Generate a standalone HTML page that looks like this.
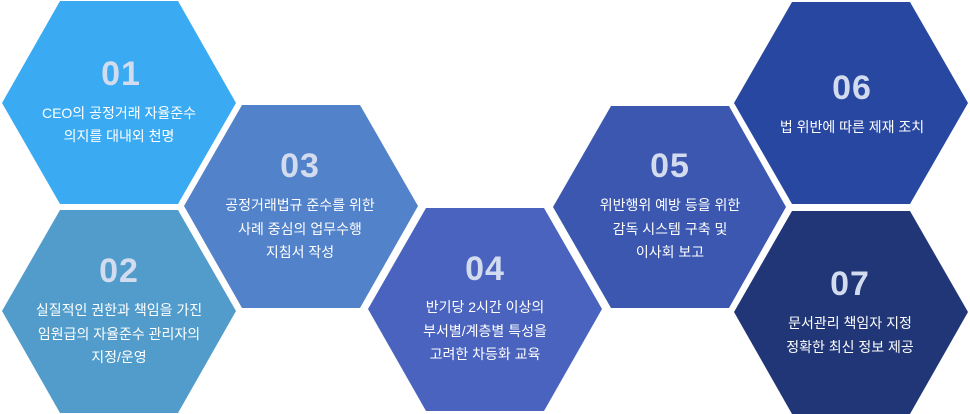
<!DOCTYPE html>
<html><head><meta charset="utf-8"><style>
html,body{margin:0;padding:0;background:#fff;width:970px;height:414px;overflow:hidden}
svg text{font-family:"Liberation Sans","Noto Sans CJK KR",sans-serif;text-anchor:middle}
.n{font-size:34px;font-weight:bold;fill:#d3dcef;letter-spacing:1px}
.t{font-size:14px;fill:#fff}
</style></head><body>
<svg width="970" height="414" viewBox="0 0 970 414" xmlns="http://www.w3.org/2000/svg">
<g>
<polygon points="2,103 60,1 178,1 236,103 178,204 60,204" fill="#3aabf2"/>
<polygon points="2,311 60,210 178,210 236,311 178,413 60,413" fill="#519ccb"/>
<polygon points="184,206 242,105 360,105 418,206 360,308 242,308" fill="#5282c9"/>
<polygon points="368,309 426,208 544,208 602,309 544,411 426,411" fill="#4a63bf"/>
<polygon points="553,207 611,106 729,106 786,207 729,308 611,308" fill="#3b57b0"/>
<polygon points="734,103 792,2 910,2 968,103 910,204 792,204" fill="#2847a1"/>
<polygon points="734,312 792,211 910,211 968,312 910,414 792,414" fill="#203677"/>
</g>
<text class="n" x="121" y="85">01</text>
<text class="t" x="119" y="118">CEO의 공정거래 자율준수</text>
<text class="t" x="119" y="141">의지를 대내외 천명</text>
<text class="n" x="119" y="282">02</text>
<text class="t" x="119" y="315">실질적인 권한과 책임을 가진</text>
<text class="t" x="119" y="339">임원급의 자율준수 관리자의</text>
<text class="t" x="119" y="362">지정/운영</text>
<text class="n" x="300" y="177">03</text>
<text class="t" x="300" y="210">공정거래법규 준수를 위한</text>
<text class="t" x="300" y="234">사례 중심의 업무수행</text>
<text class="t" x="300" y="257">지침서 작성</text>
<text class="n" x="485" y="280">04</text>
<text class="t" x="485" y="312">반기당 2시간 이상의</text>
<text class="t" x="485" y="336">부서별/계층별 특성을</text>
<text class="t" x="485" y="359">고려한 차등화 교육</text>
<text class="n" x="670" y="177">05</text>
<text class="t" x="670" y="210">위반행위 예방 등을 위한</text>
<text class="t" x="670" y="234">감독 시스템 구축 및</text>
<text class="t" x="670" y="257">이사회 보고</text>
<text class="n" x="852" y="99">06</text>
<text class="t" x="852" y="132">법 위반에 따른 제재 조치</text>
<text class="n" x="850" y="295">07</text>
<text class="t" x="850" y="328">문서관리 책임자 지정</text>
<text class="t" x="850" y="352">정확한 최신 정보 제공</text>
</svg>
</body></html>
